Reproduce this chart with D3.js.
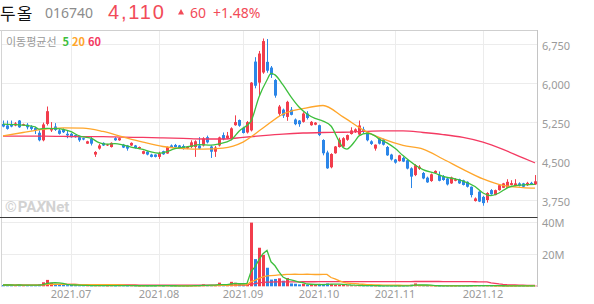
<!DOCTYPE html>
<html><head><meta charset="utf-8">
<script src="https://cdn.jsdelivr.net/npm/d3@7"></script>
<style>html,body{margin:0;padding:0;background:#fff;}svg{display:block;}</style>
</head><body><svg id="c" width="594" height="304"></svg>
<script>
// ---------- data ----------
const stockName = "두올";
const stockCode = "016740";
const months = ["2021.06","2021.07","2021.08","2021.09","2021.10","2021.11","2021.12"];
const monthDays = [
  [8,9,10,11,14,15,16,17,18,21,22,23,24,25,28,29,30],
  [1,2,5,6,7,8,9,12,13,14,15,16,19,20,21,22,23,26,27,28,29,30],
  [2,3,4,5,6,9,10,11,12,13,17,18,19,20,23,24,25,26,27,30,31],
  [1,2,3,6,7,8,9,10,13,14,15,16,17,23,24,27,28,29,30],
  [1,5,6,7,8,12,13,14,15,18,19,20,21,22,25,26,27,28,29],
  [1,2,3,4,5,8,9,10,11,12,15,16,17,18,19,22,23,24,25,26,29,30],
  [1,2,3,6,7,8,9,10,13,14,15,16,17,20]
];
const tickLabels = ["2021.07","2021.08","2021.09","2021.10","2021.11","2021.12"];
const priceTicks = [3750,4500,5250,6000,6750];
const volumeTicks = [20,40];

const open = [5215,5185,5200,5185,5280,5185,5200,5165,5135,5045,4900,5215,5090,5165,5090,5110,5025,5025,5000,4960,
4940,4835,4930,4625,4740,4850,4800,4770,4940,4900,4815,4800,4800,4800,4740,4640,4680,4625,4625,4580,
4690,4645,4800,4810,4800,4790,4745,4770,4770,4800,4800,4960,4780,4680,4800,5000,4940,4920,5190,5290,
5140,5050,5090,6415,6010,6205,6410,6300,6060,5410,5490,5350,5490,5300,5280,5255,5415,5190,5200,5190,
4905,4665,4380,4650,4770,4780,4910,5020,5060,5010,5110,5050,4880,4740,4940,4915,4770,4625,4530,4500,
4560,4515,4360,4230,4350,4270,4180,4115,4270,4230,4210,4165,4070,4120,4150,4130,4100,4005,3730,3910,
3810,3750,3940,3845,3940,3985,3985,4040,4020,4070,4070,4035,4080,4050];
const high = [5280,5280,5280,5250,5290,5220,5230,5190,5160,5090,5240,5550,5250,5230,5120,5130,5090,5040,5010,4990,
4950,4890,4980,4690,4830,4860,4830,4860,4960,4950,4830,4810,4860,4810,4780,4700,4690,4640,4630,4680,
4700,4780,4820,4830,4810,4820,4790,4900,4900,4960,4960,4990,4800,4790,4970,5050,5060,5150,5380,5300,
5160,5270,6020,6500,6620,6860,6850,6330,6080,5580,5510,5660,5540,5320,5290,5440,5460,5270,5250,5200,
4920,4700,4650,4790,4950,4960,5010,5150,5130,5280,5160,5070,4900,4820,4960,4930,4790,4640,4540,4620,
4580,4530,4380,4440,4420,4290,4200,4260,4320,4300,4230,4180,4200,4170,4160,4140,4110,4010,3800,3920,
3830,3900,3960,3950,4050,4080,4150,4130,4150,4090,4080,4100,4100,4230];
const low = [5150,5105,5150,5170,5140,5180,5110,5090,5020,4880,4880,5185,5060,5080,5010,5040,4940,4950,4950,4870,
4900,4830,4800,4580,4720,4790,4790,4760,4890,4890,4750,4700,4790,4740,4730,4630,4610,4570,4570,4540,
4620,4640,4760,4760,4730,4720,4730,4750,4580,4730,4780,4840,4560,4580,4780,4900,4920,4900,5180,5160,
5030,5030,5070,5900,5760,6180,6200,6100,5720,5370,5330,5275,5380,5190,5160,5240,5300,5180,5190,4980,
4610,4350,4360,4640,4760,4770,4890,5010,5040,5000,5030,4880,4810,4700,4820,4800,4600,4510,4450,4490,
4480,4340,3980,4210,4330,4150,4080,4100,4260,4110,4120,4030,4060,4110,4060,4030,3990,3800,3720,3710,
3640,3700,3850,3840,3930,3980,3980,4030,4010,4010,3990,4020,4040,4040];
const close = [5165,5120,5165,5225,5150,5210,5150,5120,5095,4900,5205,5460,5120,5100,5025,5055,4995,4960,4960,4900,
4915,4880,4835,4675,4800,4800,4820,4850,4900,4940,4760,4740,4850,4750,4770,4690,4625,4580,4580,4645,
4630,4770,4770,4770,4740,4740,4775,4860,4880,4740,4935,4860,4680,4760,4955,4920,4990,5130,5250,5180,
5040,5250,6010,5950,6570,6810,6240,6160,5760,5550,5375,5640,5390,5210,5210,5415,5330,5255,5240,5000,
4650,4360,4635,4780,4910,4940,5000,5090,5110,5185,5060,4900,4830,4815,4835,4815,4610,4530,4470,4610,
4490,4355,4200,4420,4390,4165,4090,4245,4310,4120,4135,4050,4185,4150,4070,4040,4005,3845,3780,3720,
3690,3885,3860,3940,4035,4070,4100,4075,4070,4025,4005,4080,4050,4110];
// volume in millions of shares
const volume = [0.8,0.9,0.7,0.6,1.0,0.6,0.7,0.5,0.6,1.2,2.5,4.0,2.2,1.2,1.0,0.8,0.7,0.9,0.6,0.5,
0.4,0.5,0.4,0.6,0.4,0.4,0.3,0.4,0.3,0.4,0.4,0.3,0.4,0.3,0.3,0.4,0.3,0.4,0.3,0.4,
0.3,0.4,0.3,0.3,0.3,0.3,0.3,0.4,0.5,0.4,1.2,0.6,0.8,0.5,2.3,1.0,0.6,2.8,2.2,1.4,
0.9,1.6,39.8,17.0,24.1,19.6,11.6,4.2,4.6,5.0,3.5,5.2,1.8,1.6,1.2,1.6,1.0,1.0,0.8,1.2,
1.5,1.8,1.4,1.0,0.9,1.1,0.6,0.5,0.4,0.6,0.4,0.4,0.3,0.3,0.3,0.3,0.4,0.3,0.3,0.3,
0.3,0.4,1.0,1.8,0.5,0.4,0.3,0.4,0.3,0.3,0.3,0.3,0.3,0.3,0.3,0.3,0.3,0.5,0.4,0.4,
0.5,0.4,0.3,0.3,0.4,0.3,0.3,0.3,0.3,0.3,0.3,0.3,0.3,0.4];
// moving averages (day index, value)
const ma5Days = [0,4,8,9,11,13,15,17,19,22,24,26,28,30,32,35,37,39,41,43,45,47,49,52,54,57,59,62,64,66,67,68,70,72,74,76,78,80,82,84,85,86,87,88,89,91,93,94,96,98,100,103,105,108,110,113,115,118,120,122,124,126,128,130,133];
const ma5 = [5210,5195,5160,5115,5130,5125,5110,5065,4985,4940,4855,4825,4835,4810,4770,4725,4675,4650,4680,4740,4765,4785,4815,4805,4830,4905,5075,5270,5735,6060,6190,6160,5965,5735,5540,5405,5320,5270,5175,4885,4760,4730,4790,4885,4985,5035,4985,4925,4850,4745,4605,4425,4335,4265,4205,4155,4115,4010,3885,3835,3885,3980,4025,4040,4050];
const maDays = [0,5,10,15,20,25,30,35,40,45,50,55,60,65,70,75,80,85,90,95,100,105,110,115,120,125,130,133];
const ma20 = [4985,5050,5110,5140,5135,5070,4965,4865,4780,4740,4730,4750,4865,5135,5405,5510,5570,5350,5100,4925,4800,4730,4540,4340,4155,4030,3990,3980];
const ma60 = [4980,4980,4980,4975,4970,4970,4960,4955,4945,4935,4925,4925,4955,4990,5020,5040,5050,5055,5070,5080,5080,5050,5010,4955,4865,4725,4560,4465];

// ---------- drawing ----------
const RED = "#f23d4c", BLUE = "#2b86e8";
const C5 = "#3dbf3d", C20 = "#ffa62b", C60 = "#f43a62";
const svg = d3.select("#c");
const L = 1, R = 537, PT = 30, PB = 217, VB = 287;

const dates = months.flatMap((m, i) => monthDays[i].map(d => m + "." + String(d).padStart(2, "0")));
const x = d3.scalePoint().domain(dates).range([3, 535]);
const y = d3.scaleLinear().domain([3750, 6750]).range([200, 44.2]);
const yv = d3.scaleLinear().domain([0, 40]).range([286.3, 222.3]);
const xi = i => x(dates[i]);

// grid
const grid = svg.append("g").attr("stroke", "#ececec").attr("stroke-width", 1);
priceTicks.forEach(t => grid.append("line").attr("x1", L).attr("x2", R).attr("y1", Math.round(y(t)) + 0.5).attr("y2", Math.round(y(t)) + 0.5));
volumeTicks.forEach(t => grid.append("line").attr("x1", L).attr("x2", R).attr("y1", Math.round(yv(t)) + 0.5).attr("y2", Math.round(yv(t)) + 0.5));
const tickPos = tickLabels.map(lbl => xi(dates.findIndex(d => d.startsWith(lbl))));
tickPos.forEach(px => grid.append("line").attr("x1", Math.round(px) + 0.5).attr("x2", Math.round(px) + 0.5).attr("y1", PT).attr("y2", VB));

// borders
svg.append("line").attr("x1", 0).attr("x2", R + 0.5).attr("y1", PT + 0.5).attr("y2", PT + 0.5).attr("stroke", "#cfcfcf");
svg.append("line").attr("x1", L + 0.5).attr("x2", L + 0.5).attr("y1", PT).attr("y2", VB).attr("stroke", "#d4d4d4");
svg.append("line").attr("x1", R + 0.5).attr("x2", R + 0.5).attr("y1", PT).attr("y2", VB).attr("stroke", "#c4c4c4");

// watermark
const wm = svg.append("text").attr("x", 5).attr("y", 211.5).attr("fill", "#d2d2d2")
  .attr("font-family", "Roboto, 'Open Sans', sans-serif").attr("font-weight", 700).attr("font-size", 15);
wm.append("tspan").text("©");
wm.append("tspan").attr("dx", 1).text("PA");
wm.append("tspan").attr("font-style", "italic").text("X");
wm.append("tspan").text("Net");

// clip for price panel
svg.append("clipPath").attr("id", "pc").append("rect").attr("x", L + 1).attr("y", PT + 1).attr("width", R - L - 1).attr("height", PB - PT - 1);
const pg = svg.append("g").attr("clip-path", "url(#pc)");

const idx = d3.range(dates.length);
const col = i => close[i] >= open[i] ? RED : BLUE;
// wicks
pg.append("g").selectAll("line").data(idx).join("line")
  .attr("x1", i => Math.round(xi(i)) + 0.5).attr("x2", i => Math.round(xi(i)) + 0.5)
  .attr("y1", i => y(high[i])).attr("y2", i => y(low[i]))
  .attr("stroke", col).attr("stroke-width", 1);
// bodies
pg.append("g").selectAll("rect").data(idx).join("rect")
  .attr("x", i => Math.round(xi(i)) - 1).attr("width", 3)
  .attr("y", i => y(Math.max(open[i], close[i])))
  .attr("height", i => Math.max(1, Math.abs(y(open[i]) - y(close[i]))))
  .attr("fill", col);

// MA lines
const maLine = (days, vals) => d3.line().curve(d3.curveMonotoneX).x((d, k) => xi(days[k])).y(d => y(d))(vals);
[[maDays, ma60, C60], [maDays, ma20, C20], [ma5Days, ma5, C5]].forEach(([dd, vv, c]) =>
  pg.append("path").attr("d", maLine(dd, vv)).attr("fill", "none").attr("stroke", c).attr("stroke-width", 1.3));

// divider
svg.append("line").attr("x1", 0).attr("x2", R + 0.5).attr("y1", PB + 0.5).attr("y2", PB + 0.5).attr("stroke", "#3a3a3a");

// volume bars
const vg = svg.append("g");
vg.selectAll("rect").data(idx).join("rect")
  .attr("x", i => Math.round(xi(i)) - 1).attr("width", 3)
  .attr("y", i => yv(volume[i])).attr("height", i => Math.max(0.6, yv(0) - yv(volume[i])))
  .attr("fill", col);
const sma = (arr, n) => arr.map((v, i) => d3.mean(arr.slice(Math.max(0, i - n + 1), i + 1)));
const vline = d3.line().x((d, i) => xi(i)).y(d => Math.min(yv(d), 286));
[[60, C60], [20, C20], [5, C5]].forEach(([n, c]) =>
  vg.append("path").attr("d", vline(sma(volume, n))).attr("fill", "none").attr("stroke", c).attr("stroke-width", 1.3));

// axis labels
const fmt = d3.format(",");
const ax = svg.append("g").attr("font-family", "'Noto Sans', 'DejaVu Sans', sans-serif").attr("font-size", 11).attr("fill", "#9a9a9a");
priceTicks.forEach(t => ax.append("text").attr("x", 542).attr("y", y(t) + 5.5).text(fmt(t)));
volumeTicks.forEach(t => ax.append("text").attr("x", 542).attr("y", yv(t) + 5).text(t + "M"));
tickLabels.forEach((lbl, k) => ax.append("text").attr("x", tickPos[k]).attr("y", 297.5).attr("text-anchor", "middle").text(lbl));

// legend
const lg = svg.append("text").attr("x", 6).attr("y", 45.5).attr("font-family", "'Noto Sans CJK KR', sans-serif").attr("font-size", 11);
lg.append("tspan").attr("fill", "#9a9a9a").text("이동평균선");
lg.append("tspan").attr("dx", 6).attr("fill", C5).attr("font-weight", 700).text("5");
lg.append("tspan").attr("dx", 3).attr("fill", C20).attr("font-weight", 700).text("20");
lg.append("tspan").attr("dx", 3).attr("fill", C60).attr("font-weight", 700).text("60");

// header
const last = close.length - 1;
const chg = close[last] - close[last - 1];
const pct = chg / close[last - 1] * 100;
svg.append("text").attr("x", 0).attr("y", 20).attr("font-family", "'Noto Sans CJK KR', sans-serif").attr("font-size", 17).attr("letter-spacing", 1).attr("fill", "#111").text(stockName);
svg.append("text").attr("x", 45).attr("y", 17.5).attr("font-family", "'Noto Sans', sans-serif").attr("font-size", 14).attr("fill", "#8c8c8c").text(stockCode);
svg.append("text").attr("x", 108).attr("y", 18.5).attr("font-family", "'Liberation Sans', Arial, sans-serif").attr("font-size", 20).attr("letter-spacing", 1.8).attr("fill", "#f24b58").text(fmt(close[last]));
svg.append("path").attr("d", "M178,14.5L181,9L184,14.5Z").attr("fill", "#f24b58");
svg.append("text").attr("x", 190).attr("y", 17.5).attr("font-family", "'Noto Sans', sans-serif").attr("font-size", 14).attr("fill", "#f24b58").text(fmt(chg));
svg.append("text").attr("x", 213).attr("y", 17.5).attr("font-family", "'Noto Sans', sans-serif").attr("font-size", 14).attr("fill", "#f24b58").text("+" + pct.toFixed(2) + "%");
</script></body></html>
